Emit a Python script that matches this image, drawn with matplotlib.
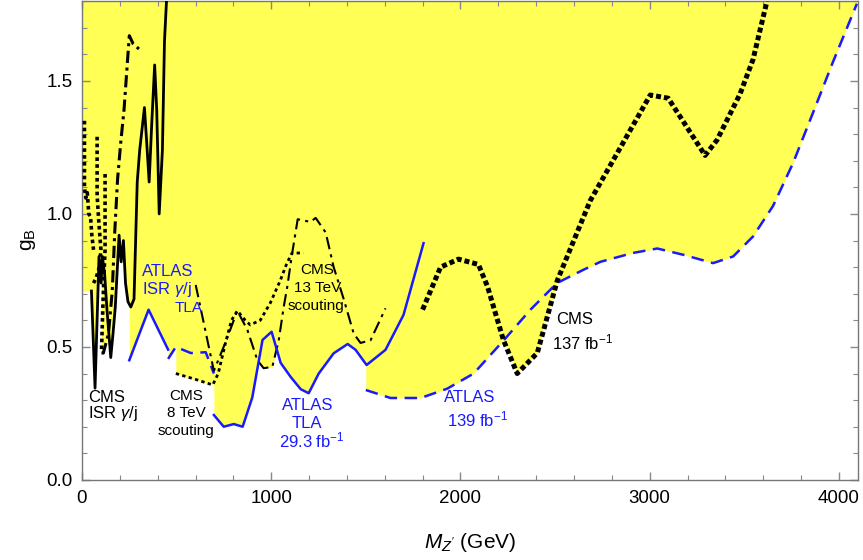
import numpy as np
import matplotlib
matplotlib.use("Agg")
import matplotlib.pyplot as plt
from matplotlib.ticker import MultipleLocator

plt.rcParams['font.family'] = ['Liberation Sans', 'DejaVu Sans']
plt.rcParams['mathtext.fontset'] = 'custom'
plt.rcParams['mathtext.rm'] = 'Liberation Sans'
plt.rcParams['mathtext.it'] = 'Liberation Sans:italic'
plt.rcParams['mathtext.bf'] = 'Liberation Sans:bold'

# ---------------- data (M_Z' in GeV, g_B) ----------------
floor_x = [0, 50]
floor_y = [0.71, 0.71]

cms_isr_x = [50, 69, 90, 101, 108, 120, 132, 141, 152, 164, 176, 196, 207, 219, 230, 243,
             258, 275, 292, 305, 330, 341, 355, 368, 384, 395, 408, 425, 436, 448]
cms_isr_y = [0.71, 0.345, 0.84, 0.74, 0.84, 0.77, 0.64, 0.56, 0.46, 0.55, 0.65, 0.92, 0.82,
             0.90, 0.74, 0.67, 0.65, 0.68, 1.12, 1.24, 1.40, 1.28, 1.12, 1.33, 1.56, 1.39,
             1.00, 1.24, 1.65, 1.82]

cms_boost_x = [103, 113, 140, 160, 173, 188, 205, 222, 250, 270, 301]
cms_boost_y = [0.477, 0.477, 0.55, 0.71, 0.93, 1.13, 1.27, 1.39, 1.67, 1.64, 1.62]

dotA_x = [13, 13, 20, 28, 36, 45, 52, 61]
dotA_y = [1.35, 1.10, 1.06, 1.08, 1.00, 0.99, 0.92, 0.865]
dotB_x = [80, 80, 88, 100, 92, 75, 61]
dotB_y = [1.29, 1.07, 0.98, 0.865, 0.80, 0.76, 0.74]
dotC_x = [122, 122, 115, 108, 103]
dotC_y = [1.15, 0.865, 0.75, 0.60, 0.48]

atlas_isr_x = [250, 352, 455]
atlas_isr_y = [0.45, 0.64, 0.49]

tla_x = [455, 496, 575, 654, 697]
tla_y = [0.455, 0.50, 0.477, 0.48, 0.40]

cms8_x = [496, 600, 691, 720, 760, 790, 821, 863, 889, 942, 995, 1048, 1083, 1110, 1170]
cms8_y = [0.40, 0.378, 0.357, 0.40, 0.52, 0.60, 0.636, 0.60, 0.583, 0.60, 0.665, 0.75,
          0.815, 0.853, 0.853]

cms13_x = [601, 697, 760, 821, 874, 927, 960, 1006, 1040, 1066, 1085, 1111, 1140, 1207,
           1235, 1288, 1330, 1383, 1436, 1472, 1525, 1604]
cms13_y = [0.733, 0.41, 0.52, 0.636, 0.564, 0.45, 0.42, 0.425, 0.526, 0.65, 0.727, 0.853,
           0.98, 0.97, 0.985, 0.93, 0.80, 0.68, 0.55, 0.515, 0.525, 0.645]

atlas_tla_x = [697, 749, 802, 849, 900, 954, 1002, 1050, 1103, 1156, 1198, 1251, 1330, 1404,
               1446, 1504, 1604, 1699, 1805]
atlas_tla_y = [0.244, 0.20, 0.21, 0.20, 0.31, 0.526, 0.557, 0.44, 0.387, 0.341, 0.326, 0.40,
               0.476, 0.511, 0.489, 0.432, 0.489, 0.62, 0.89]

atlas139_x = [1500, 1630, 1790, 1930, 2070, 2230, 2370, 2510, 2650, 2740, 2910, 3040, 3180,
              3335, 3441, 3546, 3652, 3757, 3863, 3968, 4095]
atlas139_y = [0.338, 0.308, 0.308, 0.343, 0.40, 0.526, 0.64, 0.74, 0.79, 0.82, 0.853, 0.87,
              0.846, 0.815, 0.84, 0.915, 1.03, 1.19, 1.38, 1.57, 1.79]

cms137_x = [1800, 1895, 1990, 2095, 2143, 2227, 2300, 2406, 2512, 2686, 3003, 3098, 3293,
            3356, 3477, 3546, 3620]
cms137_y = [0.64, 0.80, 0.83, 0.81, 0.727, 0.526, 0.40, 0.477, 0.75, 1.05, 1.447, 1.435,
            1.22, 1.278, 1.45, 1.58, 1.80]

XMAX, YMAX = 4100, 1.8
YELLOW = '#ffff55'
BLUE = '#1a1aff'

# ---------------- figure ----------------
fig = plt.figure(figsize=(8.63, 5.6), dpi=100)
ax = fig.add_axes([0.095, 0.143, 0.899, 0.855])

# excluded region: above lower envelope of all limits
grid = np.arange(0, XMAX + 0.25, 0.5)
env_curves = [(floor_x, floor_y), (cms_isr_x, cms_isr_y), (cms_boost_x, cms_boost_y),
              (atlas_isr_x, atlas_isr_y), (tla_x, tla_y), (cms8_x, cms8_y),
              (cms13_x, cms13_y), (atlas_tla_x, atlas_tla_y), (atlas139_x, atlas139_y),
              (cms137_x, cms137_y)]
stack = []
for cx, cy in env_curves:
    v = np.interp(grid, cx, cy)
    v[(grid < cx[0]) | (grid > cx[-1])] = np.nan
    stack.append(v)
stack = np.array(stack)
valid = ~np.all(np.isnan(stack), axis=0)
lower = np.where(valid, np.nanmin(np.where(np.isnan(stack), np.inf, stack), axis=0), np.nan)
ax.fill_between(grid, lower, YMAX, where=valid, color=YELLOW, lw=0, zorder=1)

# curves
blk = 'black'
ax.plot(cms_isr_x, cms_isr_y, color=blk, lw=2.0, zorder=3)
ax.plot(cms_boost_x, cms_boost_y, color=blk, lw=2.2, ls=(0, (4, 1.5, 1, 1.5)), zorder=3)
for dx, dy in [(dotA_x, dotA_y), (dotB_x, dotB_y), (dotC_x, dotC_y)]:
    ax.plot(dx, dy, color=blk, lw=2.6, ls=(0, (1, 0.9)), zorder=3)
ax.plot(atlas_isr_x, atlas_isr_y, color=BLUE, lw=1.8, zorder=3)
ax.plot(tla_x, tla_y, color=BLUE, lw=1.8, ls=(0, (5, 3)), zorder=3)
ax.plot(cms8_x, cms8_y, color=blk, lw=2.0, ls=(0, (1.2, 1.2)), zorder=3)
ax.plot(cms13_x, cms13_y, color=blk, lw=1.5, ls=(0, (6, 2.5, 1.5, 2.5)), zorder=3)
ax.plot(atlas_tla_x, atlas_tla_y, color=BLUE, lw=1.8, zorder=3)
ax.plot(atlas139_x, atlas139_y, color=BLUE, lw=1.8, ls=(0, (5, 3)), zorder=3)
ax.plot(cms137_x, cms137_y, color=blk, lw=3.6, ls=(0, (1, 0.6)), zorder=3)

# labels
fs = 12
def lab(x, y, s, c, size=fs):
    ax.text(x, y, s, color=c, fontsize=size, ha='center', va='center', zorder=5)

lab(129, 0.308, 'CMS', blk)
lab(166, 0.248, r'ISR $\gamma$/j', blk)
lab(551, 0.316, 'CMS', blk, 11)
lab(551, 0.252, '8 TeV', blk, 11)
lab(551, 0.184, 'scouting', blk, 11)
lab(1243, 0.789, 'CMS', blk, 11)
lab(1243, 0.722, '13 TeV', blk, 11)
lab(1237, 0.654, 'scouting', blk, 11)
lab(2604, 0.602, 'CMS', blk)
lab(2646, 0.515, r'137 fb$^{-1}$', blk)
lab(451, 0.782, 'ATLAS', BLUE)
lab(451, 0.714, r'ISR $\gamma$/j', BLUE)
lab(562, 0.647, 'TLA', BLUE, 11)
lab(1190, 0.278, 'ATLAS', BLUE)
lab(1190, 0.211, 'TLA', BLUE)
lab(1216, 0.147, r'29.3 fb$^{-1}$', BLUE)
lab(2050, 0.308, 'ATLAS', BLUE)
lab(2092, 0.226, r'139 fb$^{-1}$', BLUE)

ax.set_xlim(0, XMAX)
ax.set_ylim(0, YMAX)
ax.xaxis.set_major_locator(MultipleLocator(1000))
ax.xaxis.set_minor_locator(MultipleLocator(200))
ax.yaxis.set_major_locator(MultipleLocator(0.5))
ax.yaxis.set_minor_locator(MultipleLocator(0.1))
ax.xaxis.set_major_formatter(matplotlib.ticker.FuncFormatter(lambda v, p: f'{v:.0f}'))
ax.yaxis.set_major_formatter(matplotlib.ticker.FuncFormatter(lambda v, p: f'{v:.1f}'))
ax.tick_params(which='both', direction='in', top=True, right=True, color='#888888',
               labelsize=13.5, labelcolor='black')
ax.tick_params(which='major', length=6, width=1.0, pad=7)
ax.tick_params(which='minor', length=3.5, width=0.8)
for s in ax.spines.values():
    s.set_color('#777777')
    s.set_linewidth(1.0)

fig.text(470 / 863, 1 - 543 / 560, r"$M_{Z'}$ (GeV)", fontsize=15, ha='center', va='center')
fig.text(28 / 863, 1 - 240 / 560, r'$\mathrm{g}_\mathrm{B}$', fontsize=15, rotation=90,
         ha='center', va='center')

fig.savefig('out.png', dpi=100)
